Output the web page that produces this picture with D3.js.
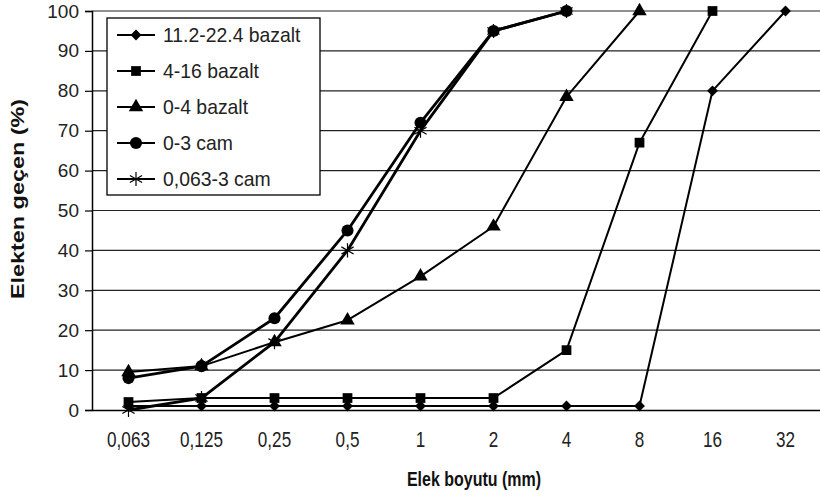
<!DOCTYPE html>
<html>
<head>
<meta charset="utf-8">
<script src="https://cdn.jsdelivr.net/npm/d3@7"></script>
<style>
  body { margin: 0; background: #fff; }
  text { font-family: "Liberation Sans", Arial, sans-serif; }
</style>
</head>
<body>
<svg id="chart" width="820" height="498"></svg>
<script>
// Elek boyutlari (kategori ekseni)
var sizes = ["0,063", "0,125", "0,25", "0,5", "1", "2", "4", "8", "16", "32"];
var yTicks = [0, 10, 20, 30, 40, 50, 60, 70, 80, 90, 100];

// elekten gecen yuzdeler, null = nokta yok
var bazalt11 = [1, 1, 1, 1, 1, 1, 1, 1, 80, 100];
var bazalt4_16 = [2, 3, 3, 3, 3, 3, 15, 67, 100, null];
var bazalt0_4 = [9.5, 11, 17, 22.5, 33.5, 46, 78.5, 100, null, null];
var cam0_3 = [8, 11, 23, 45, 72, 95, 100, null, null, null];
var cam0063_3 = [0, 3, 17, 40, 70, 95, 100, null, null, null];

var seriesNames = ["11.2-22.4 bazalt", "4-16 bazalt", "0-4 bazalt", "0-3 cam", "0,063-3 cam"];

var series = [
  {name: seriesNames[0], values: bazalt11, symbol: "diamond", width: 2},
  {name: seriesNames[1], values: bazalt4_16, symbol: "square", width: 2},
  {name: seriesNames[2], values: bazalt0_4, symbol: "triangle", width: 2},
  {name: seriesNames[3], values: cam0_3, symbol: "circle", width: 2.8},
  {name: seriesNames[4], values: cam0063_3, symbol: "star", width: 2.8}
];

var margin = {left: 92, top: 11, right: -2, bottom: 88};
var width = 820 - margin.left - margin.right,
    height = 498 - margin.top - margin.bottom;

var svg = d3.select("#chart");
var g = svg.append("g").attr("transform", "translate(" + margin.left + "," + margin.top + ")");

var x = d3.scaleBand().domain(sizes).range([0, width]);
var y = d3.scaleLinear().domain([0, 100]).range([height, 0]);

// yatay izgara cizgileri
g.selectAll(".grid")
  .data(yTicks.slice(1))
  .enter().append("line")
  .attr("x1", 0).attr("x2", width)
  .attr("y1", d => y(d)).attr("y2", d => y(d))
  .attr("stroke", "#222").attr("stroke-width", 1.2);

// y ekseni
var yAxis = g.append("g")
  .call(d3.axisLeft(y).tickValues(yTicks).tickSize(7).tickPadding(6));
yAxis.select(".domain").attr("stroke", "#000").attr("stroke-width", 1.5);
yAxis.selectAll(".tick line").attr("stroke", "#000").attr("stroke-width", 1.2);
yAxis.selectAll("text").style("font-size", "19px").attr("fill", "#222");

// x ekseni
var xAxis = g.append("g")
  .attr("transform", "translate(0," + height + ")")
  .call(d3.axisBottom(x).tickSize(0).tickPadding(0));
xAxis.select(".domain").attr("stroke", "#000").attr("stroke-width", 1.5);
// etiketler resimde biraz dar ve uzun
xAxis.selectAll("text")
  .attr("y", 0).attr("dy", null)
  .attr("transform", "translate(0,37) scale(0.9,1.12)")
  .style("font-size", "19px").attr("fill", "#222");

// eksen basliklari (resimde yazilar dikeyde biraz uzamis)
svg.append("text")
  .attr("transform", "translate(474,486) scale(1,1.3)")
  .attr("text-anchor", "middle")
  .style("font-size", "16px").style("font-weight", "bold")
  .attr("fill", "#111")
  .text("Elek boyutu (mm)");

svg.append("text")
  .attr("transform", "translate(24,199) scale(1,1.3) rotate(-90)")
  .attr("text-anchor", "middle")
  .style("font-size", "18px").style("font-weight", "bold")
  .attr("fill", "#111")
  .text("Elekten geçen (%)");

var symbolTypes = {
  diamond: d3.symbolDiamond2,
  square: d3.symbolSquare,
  triangle: d3.symbolTriangle,
  circle: d3.symbolCircle,
  star: d3.symbolAsterisk
};
var symbolSizes = {diamond: 75, square: 95, triangle: 90, circle: 115, star: 140};

function drawSymbol(sel, s) {
  var sym = d3.symbol().type(symbolTypes[s.symbol]).size(symbolSizes[s.symbol]);
  sel.attr("d", sym)
    .attr("fill", s.symbol == "star" ? "none" : "#000")
    .attr("stroke", "#000")
    .attr("stroke-width", s.symbol == "star" ? 1.2 : 0);
}

var line = d3.line()
  .defined(d => d.v != null)
  .x(d => x(d.k) + x.bandwidth() / 2)
  .y(d => y(d.v));

series.forEach(function(s) {
  var pts = sizes.map((k, i) => ({k: k, v: s.values[i]}));
  g.append("path")
    .datum(pts)
    .attr("d", line)
    .attr("fill", "none")
    .attr("stroke", "#000")
    .attr("stroke-width", s.width)
    .attr("stroke-linejoin", "round");

  g.selectAll(null)
    .data(pts.filter(d => d.v != null))
    .enter().append("path")
    .attr("transform", d => "translate(" + (x(d.k) + x.bandwidth() / 2) + "," + y(d.v) + ")")
    .call(drawSymbol, s);
});

// lejant
var legend = svg.append("g").attr("transform", "translate(107,18)");
legend.append("rect")
  .attr("width", 213).attr("height", 177)
  .attr("fill", "#fff").attr("stroke", "#000").attr("stroke-width", 1.3);

var item = legend.selectAll(".item")
  .data(series)
  .enter().append("g")
  .attr("transform", (d, i) => "translate(0," + (17 + i * 36) + ")");

item.append("line")
  .attr("x1", 10).attr("x2", 48)
  .attr("stroke", "#000").attr("stroke-width", 2);
item.each(function(s) {
  d3.select(this).append("path")
    .attr("transform", "translate(29,0)")
    .call(drawSymbol, s);
});
item.append("text")
  .attr("transform", "translate(56,7) scale(1.02,1.1)")
  .style("font-size", "19px").attr("fill", "#222")
  .text(d => d.name);
</script>
</body>
</html>
